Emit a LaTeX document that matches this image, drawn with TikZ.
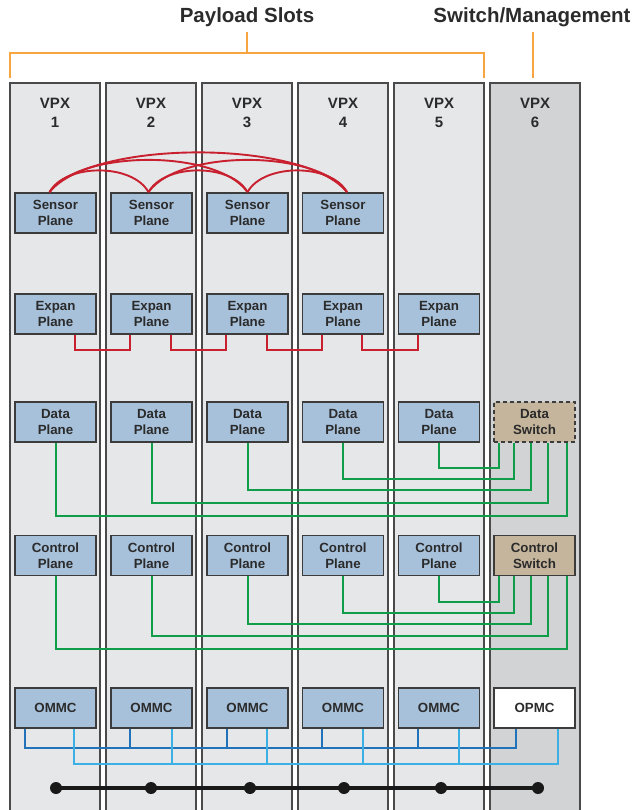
\documentclass[tikz,border=0pt]{standalone}
\usepackage{fontspec}
\setmainfont{Liberation Sans}
\usetikzlibrary{calc}
\definecolor{slotfill}{HTML}{E6E7E8}
\definecolor{slotdark}{HTML}{D1D3D4}
\definecolor{boxblue}{HTML}{A7C1DB}
\definecolor{swtan}{HTML}{C4B59C}
\definecolor{edgegray}{HTML}{3C3C3C}
\definecolor{slotedge}{HTML}{4A4A4A}
\definecolor{redl}{HTML}{C8202F}
\definecolor{greenl}{HTML}{0F9D4A}
\definecolor{dbluel}{HTML}{2272BA}
\definecolor{lbluel}{HTML}{3BB0E4}
\definecolor{orng}{HTML}{F7A541}
\definecolor{txt}{HTML}{2B2B2B}
\begin{document}
\begin{tikzpicture}[x=1pt,y=-1pt,
  slotbox/.style={draw=slotedge, line width=1.6pt, fill=slotfill},
  slotboxdark/.style={draw=slotedge, line width=1.6pt, fill=slotdark},
  vpx/.style={align=center, text=txt, font=\fontsize{15}{19}\selectfont\bfseries, inner sep=0pt},
  title/.style={text=txt, font=\fontsize{20.5}{24}\selectfont\bfseries, inner sep=0pt},
  box/.style={draw=edgegray, line width=1.7pt, fill=boxblue, minimum width=81pt, minimum height=40pt, inner sep=0pt, align=center, font=\fontsize{13.3}{16}\selectfont\bfseries, text=txt},
  swbox/.style={box, fill=swtan},
  whitebox/.style={box, fill=white},
  redline/.style={draw=redl, line width=1.9pt},
  greenline/.style={draw=greenl, line width=2pt},
  dblueline/.style={draw=dbluel, line width=1.8pt},
  lblueline/.style={draw=lbluel, line width=1.8pt},
  orline/.style={draw=orng, line width=2pt},
  busline/.style={draw=black!90, line width=3.4pt}
]
\useasboundingbox (0,0) rectangle (634,810);

% titles and brackets
\node[title] (payload) at (247,17) {Payload Slots};
\node[title] (switchmgmt) at (532,17) {Switch/Management};
\coordinate (brL) at (10,78);
\coordinate (brR) at (484,78);
\draw[orline] (brL) -- (10,53) -- (484,53) -- (brR);
\draw[orline] (247,53) -- (247,32);
\draw[orline] (533,32) -- (533,78);

% slots
\draw[slotbox] (10,815) -- (10,83) -- (100,83) -- (100,815);
\draw[slotbox] (106,815) -- (106,83) -- (196,83) -- (196,815);
\draw[slotbox] (202,815) -- (202,83) -- (292,83) -- (292,815);
\draw[slotbox] (298,815) -- (298,83) -- (388,83) -- (388,815);
\draw[slotbox] (394,815) -- (394,83) -- (484,83) -- (484,815);
\draw[slotboxdark] (490,815) -- (490,83) -- (580,83) -- (580,815);

\node[vpx] (v1) at (55,113) {VPX\\1};
\node[vpx] (v2) at (151,113) {VPX\\2};
\node[vpx] (v3) at (247,113) {VPX\\3};
\node[vpx] (v4) at (343,113) {VPX\\4};
\node[vpx] (v5) at (439,113) {VPX\\5};
\node[vpx] (v6) at (535,113) {VPX\\6};

% sensor plane
\node[box] (s1) at (55.5,213) {Sensor\\Plane};
\node[box] (s2) at (151.5,213) {Sensor\\Plane};
\node[box] (s3) at (247.5,213) {Sensor\\Plane};
\node[box] (s4) at (343,213) {Sensor\\Plane};

% expan plane
\node[box] (e1) at (55.5,314) {Expan\\Plane};
\node[box] (e2) at (151.5,314) {Expan\\Plane};
\node[box] (e3) at (247.5,314) {Expan\\Plane};
\node[box] (e4) at (343,314) {Expan\\Plane};
\node[box] (e5) at (439,314) {Expan\\Plane};

% data plane
\node[box] (d1) at (55.5,422) {Data\\Plane};
\node[box] (d2) at (151.5,422) {Data\\Plane};
\node[box] (d3) at (247.5,422) {Data\\Plane};
\node[box] (d4) at (343,422) {Data\\Plane};
\node[box] (d5) at (439,422) {Data\\Plane};
\node[swbox, dashed, dash pattern=on 4pt off 3pt] (dsw) at (534.5,422) {Data\\Switch};

% control plane
\node[box] (c1) at (55.5,555.5) {Control\\Plane};
\node[box] (c2) at (151.5,555.5) {Control\\Plane};
\node[box] (c3) at (247.5,555.5) {Control\\Plane};
\node[box] (c4) at (343,555.5) {Control\\Plane};
\node[box] (c5) at (439,555.5) {Control\\Plane};
\node[swbox] (csw) at (534.5,555.5) {Control\\Switch};

% management
\node[box] (m1) at (55.5,708) {OMMC};
\node[box] (m2) at (151.5,708) {OMMC};
\node[box] (m3) at (247.5,708) {OMMC};
\node[box] (m4) at (343,708) {OMMC};
\node[box] (m5) at (439,708) {OMMC};
\node[whitebox] (opmc) at (534.5,708) {OPMC};

% sensor arcs
\coordinate (a1) at ([xshift=-6pt]s1.north);
\coordinate (a2) at ([xshift=-3pt]s2.north);
\coordinate (a3) at (s3.north);
\coordinate (a4) at ([xshift=4pt]s4.north);
\draw[redline] (a1) .. controls +(16,-29) and +(-16,-29) .. (a2);
\draw[redline] (a2) .. controls +(16,-29) and +(-16,-29) .. (a3);
\draw[redline] (a3) .. controls +(16,-29) and +(-16,-29) .. (a4);
\draw[redline] (a1) .. controls +(30,-43) and +(-30,-43) .. (a3);
\draw[redline] (a2) .. controls +(30,-43) and +(-30,-43) .. (a4);
\draw[redline] (a1) .. controls +(42,-53) and +(-42,-53) .. (a4);

% expan links
\draw[redline] ([xshift=-22pt]e1.south east) -- ++(0,15) -| ([xshift=20pt]e2.south west);
\draw[redline] ([xshift=-22pt]e2.south east) -- ++(0,15) -| ([xshift=20pt]e3.south west);
\draw[redline] ([xshift=-22pt]e3.south east) -- ++(0,15) -| ([xshift=20pt]e4.south west);
\draw[redline] ([xshift=-22pt]e4.south east) -- ++(0,15) -| ([xshift=20pt]e5.south west);

% data links
\draw[greenline] (d5.south) -- ++(0,25) -| ([xshift=6pt]dsw.south west);
\draw[greenline] (d4.south) -- ++(0,36) -| ([xshift=21pt]dsw.south west);
\draw[greenline] (d3.south) -- ++(0,47) -| ([xshift=38pt]dsw.south west);
\draw[greenline] (d2.south) -- ++(0,60) -| ([xshift=55pt]dsw.south west);
\draw[greenline] (d1.south) -- ++(0,73) -| ([xshift=74pt]dsw.south west);

% control links
\draw[greenline] (c5.south) -- ++(0,26) -| ([xshift=6pt]csw.south west);
\draw[greenline] (c4.south) -- ++(0,37) -| ([xshift=21pt]csw.south west);
\draw[greenline] (c3.south) -- ++(0,48) -| ([xshift=38pt]csw.south west);
\draw[greenline] (c2.south) -- ++(0,60) -| ([xshift=55pt]csw.south west);
\draw[greenline] (c1.south) -- ++(0,73) -| ([xshift=74pt]csw.south west);

% management buses
\draw[dblueline] ([xshift=11pt]m1.south west) -- ++(0,19) -| ([xshift=23pt]opmc.south west);
\draw[dblueline] ([xshift=20pt]m2.south west) -- ++(0,19);
\draw[dblueline] ([xshift=21pt]m3.south west) -- ++(0,19);
\draw[dblueline] ([xshift=20pt]m4.south west) -- ++(0,19);
\draw[dblueline] ([xshift=20pt]m5.south west) -- ++(0,19);
\draw[lblueline] ([xshift=60pt]m1.south west) -- ++(0,35) -| ([xshift=65pt]opmc.south west);
\draw[lblueline] ([xshift=62pt]m2.south west) -- ++(0,35);
\draw[lblueline] ([xshift=61pt]m3.south west) -- ++(0,35);
\draw[lblueline] ([xshift=61pt]m4.south west) -- ++(0,35);
\draw[lblueline] ([xshift=61pt]m5.south west) -- ++(0,35);

% backplane bus
\coordinate (b1) at (56,788);
\coordinate (b2) at (151,788);
\coordinate (b3) at (250,788);
\coordinate (b4) at (344,788);
\coordinate (b5) at (441,788);
\coordinate (b6) at (538,788);
\draw[busline] (b1) -- (b6);
\foreach \b in {b1,b2,b3,b4,b5,b6} \fill[black!90] (\b) circle (6pt);
\end{tikzpicture}
\end{document}
